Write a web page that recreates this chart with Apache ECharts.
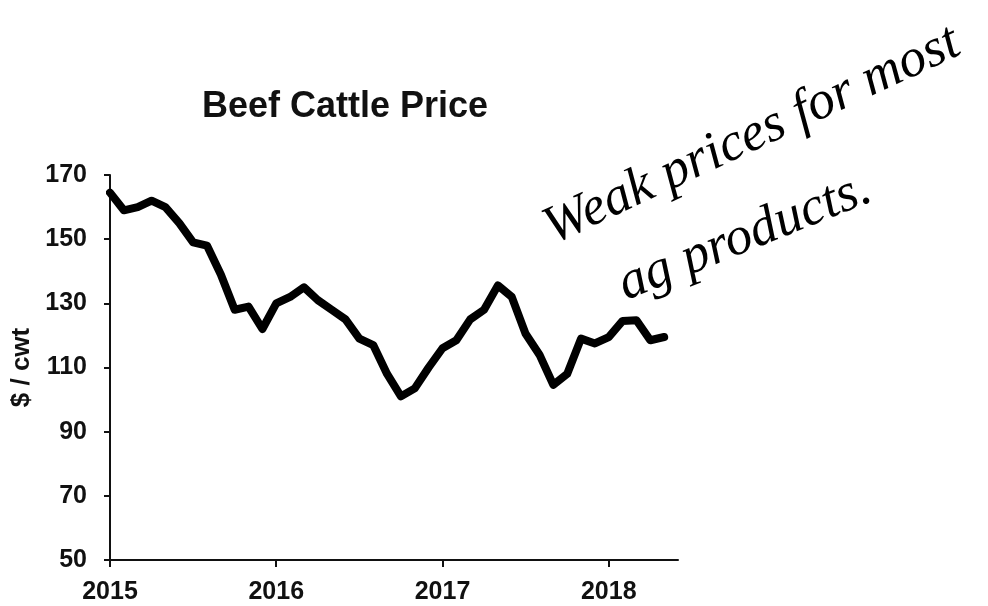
<!DOCTYPE html>
<html>
<head>
<meta charset="utf-8">
<script src="https://cdn.jsdelivr.net/npm/echarts@6/dist/echarts.min.js"></script>
<style>
  html, body { margin: 0; padding: 0; background: #fff; }
  #chart { width: 988px; height: 606px; }
</style>
</head>
<body>
<div id="chart"></div>
<script>
// Monthly beef cattle price, $/cwt, January 2015 through May 2018
const startYear = 2015;
const yearTickMonths = [0, 12, 24, 36];
const priceTicks = [50, 70, 90, 110, 130, 150, 170];
const prices = [
  164.5, 159, 160, 162, 160, 155, 149, 148, 139, 128, 129, 122,
  130, 132, 135, 131, 128, 125, 119, 117, 108, 101, 103.5, 110,
  116, 118.5, 125, 128, 135.6, 132, 120.5, 114, 104.6, 108, 119, 117.5,
  119.5, 124.5, 124.7, 118.5, 119.5
];
const noteLines = ['Weak prices for most', 'ag products.'];

const ink = '#111';
const font = 'Liberation Sans, Arial, sans-serif';
const handFont = 'Liberation Serif, serif';

const chart = echarts.init(document.getElementById('chart'), null, { renderer: 'canvas' });

chart.setOption({
  backgroundColor: '#fff',
  animation: false,
  grid: { left: 110, right: 310, top: 175, bottom: 46, containLabel: false },
  xAxis: {
    type: 'value',
    min: 0,
    max: 41,
    axisLine: { show: true, onZero: false, lineStyle: { color: ink, width: 2 } },
    axisTick: { show: true, customValues: yearTickMonths, length: 7, lineStyle: { color: ink, width: 2 } },
    axisLabel: {
      customValues: yearTickMonths,
      formatter: v => String(startYear + v / 12),
      color: ink, fontFamily: font, fontWeight: 'bold', fontSize: 25, margin: 20
    },
    splitLine: { show: false }
  },
  yAxis: {
    type: 'value',
    min: 50,
    max: 170,
    name: '$ / cwt',
    nameLocation: 'middle',
    nameRotate: 90,
    nameGap: 63,
    nameTextStyle: { color: ink, fontFamily: font, fontWeight: 'bold', fontSize: 26 },
    axisLine: { show: true, lineStyle: { color: ink, width: 2 } },
    axisTick: { show: true, customValues: priceTicks, length: 6, lineStyle: { color: ink, width: 2 } },
    axisLabel: {
      customValues: priceTicks,
      color: ink, fontFamily: font, fontWeight: 'bold', fontSize: 25, margin: 23
    },
    splitLine: { show: false }
  },
  series: [{
    type: 'line',
    data: prices.map((v, i) => [i, v]),
    showSymbol: false,
    lineStyle: { color: '#000', width: 8, join: 'round', cap: 'round' },
    clip: false
  }],
  graphic: [
    {
      type: 'text', x: 345, y: 107,
      style: {
        text: 'Beef Cattle Price', fill: ink, font: 'bold 36px ' + font,
        align: 'center', verticalAlign: 'middle'
      }
    },
    {
      type: 'text', x: 752, y: 136, rotation: 25 * Math.PI / 180,
      style: {
        text: noteLines[0], fill: '#000', font: 'italic 54px ' + handFont,
        align: 'center', verticalAlign: 'middle'
      }
    },
    {
      type: 'text', x: 745, y: 237, rotation: 22 * Math.PI / 180,
      style: {
        text: noteLines[1], fill: '#000', font: 'italic 54px ' + handFont,
        align: 'center', verticalAlign: 'middle'
      }
    }
  ]
});
</script>
</body>
</html>
